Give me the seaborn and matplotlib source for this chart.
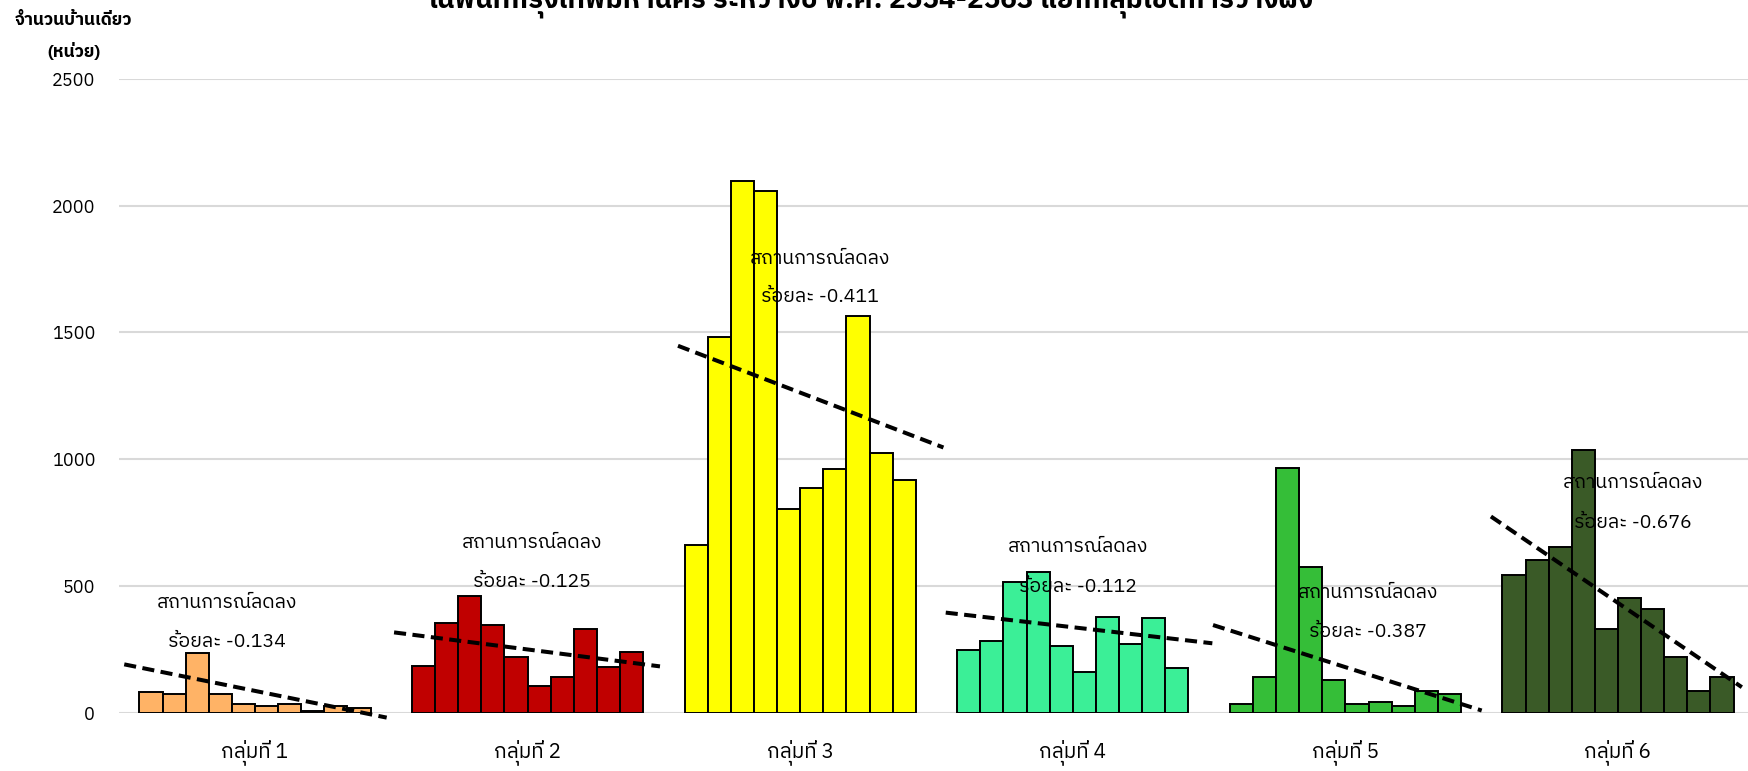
import numpy as np
import pandas as pd
import matplotlib
matplotlib.use("Agg")
import matplotlib.pyplot as plt
from matplotlib import font_manager as fm
import seaborn as sns

# ---- data ----
groups = ["กลุ่มที่ 1", "กลุ่มที่ 2", "กลุ่มที่ 3", "กลุ่มที่ 4", "กลุ่มที่ 5", "กลุ่มที่ 6"]
years = ["2554", "2555", "2556", "2557", "2558", "2559", "2560", "2561", "2562", "2563"]
g1 = [83, 75, 237, 74, 33, 26, 36, 6, 26, 19]
g2 = [186, 355, 460, 345, 220, 106, 142, 332, 182, 241]
g3 = [662, 1480, 2097, 2056, 805, 887, 961, 1563, 1023, 918]
g4 = [247, 284, 517, 554, 262, 161, 376, 272, 374, 176]
g5 = [33, 141, 964, 574, 129, 34, 42, 26, 84, 75]
g6 = [543, 604, 655, 1036, 330, 454, 409, 221, 86, 141]
pct = ["-0.134", "-0.125", "-0.411", "-0.112", "-0.387", "-0.676"]
trend_start = [191, 317, 1447, 395, 346, 774]
trend_end = [-19, 183, 1046, 274, 9, 101]

title = "ในพื้นที่กรุงเทพมหานคร ระหว่างปี พ.ศ. 2554-2563 แยกกลุ่มเขตการวางผัง"
ylab1 = "จำนวนบ้านเดี่ยว"
ylab2 = "(หน่วย)"
note = "สถานการณ์ลดลง"

# ---- styling / layout ----
colors = ["#FFB366", "#C00000", "#FFFF00", "#3BEF97", "#35BE38", "#3A5A27"]
GROUP_W = 0.8475
BAR_W = GROUP_W / len(years)
# trend line extent in bar-index units (1..10 are the bars)
trend_span = [(-0.16, 11.2), (-0.28, 11.23), (0.21, 11.7), (0.0, 11.54), (-0.23, 11.4), (0.0, 10.86)]
# annotation: x offset from group centre, y of first line, y of second line
note_pos = [(-0.104, 433, 280), (0.015, 668, 517), (0.072, 1791, 1640),
            (0.018, 655, 497), (0.084, 471, 320), (0.055, 905, 747)]


def find_thai_font():
    try:
        from fontTools.ttLib import TTFont
    except Exception:
        return None
    found = []
    for f in fm.fontManager.ttflist:
        try:
            tt = TTFont(f.fname, fontNumber=0, lazy=True)
            cmap = tt.getBestCmap()
            if cmap and 0x0E2A in cmap and 0x0E13 in cmap:
                found.append(f)
        except Exception:
            continue
    if not found:
        return None
    found.sort(key=lambda f: (("Sans" not in f.name), ("Mono" in f.name), f.weight != 400))
    return found[0].name


sns.set_theme(style="white")
thai = find_thai_font()
fams = [thai, "DejaVu Sans"] if thai else ["DejaVu Sans"]
plt.rcParams["font.family"] = fams
plt.rcParams["text.color"] = "black"
plt.rcParams["xtick.color"] = "black"
plt.rcParams["ytick.color"] = "black"

W, H = 1749, 771
fig = plt.figure(figsize=(W / 100, H / 100), dpi=100)
ax = fig.add_axes([118.7 / W, 58.2 / H, 1635.6 / W, 634.1 / H])

values = [g1, g2, g3, g4, g5, g6]
rows = []
for gname, vals in zip(groups, values):
    for yr, v in zip(years, vals):
        rows.append({"group": gname, "year": yr, "value": v})
df = pd.DataFrame(rows)

sns.barplot(data=df, x="group", y="value", hue="year", order=groups, hue_order=years,
            width=GROUP_W, gap=0, dodge=True, errorbar=None, legend=False,
            edgecolor="black", linewidth=1.4, ax=ax, zorder=2)

for p in ax.patches:
    cx = p.get_x() + p.get_width() / 2
    gi = int(round(cx))
    p.set_facecolor(colors[gi])
    p.set_edgecolor("black")

# dashed trend lines
for i in range(len(groups)):
    k0, k1 = trend_span[i]
    xs = [i + (k0 - 5.5) * BAR_W, i + (k1 - 5.5) * BAR_W]
    ax.plot(xs, [trend_start[i], trend_end[i]], color="black", lw=2.9,
            linestyle=(0, (3, 1.6)), zorder=4, clip_on=False)

# annotations
for i in range(len(groups)):
    dx, y1, y2 = note_pos[i]
    ax.text(i + dx, y1, note, ha="center", va="center", fontsize=14, color="black", zorder=5)
    ax.text(i + dx, y2, "ร้อยละ " + pct[i], ha="center", va="center", fontsize=14,
            color="black", zorder=5)

ax.set_xlim(-0.5, len(groups) - 0.5)
ax.set_ylim(0, 2500)
ax.set_yticks([0, 500, 1000, 1500, 2000, 2500])
ax.yaxis.grid(True, color="#D9D9D9", lw=1.5, zorder=0)
ax.xaxis.grid(False)
ax.set_axisbelow(True)
for s in ax.spines.values():
    s.set_visible(False)
ax.tick_params(axis="x", length=0, pad=19, labelsize=15)
ax.tick_params(axis="y", length=0, pad=17, labelsize=13)
ax.set_xlabel("")
ax.set_ylabel("")

fig.text(74 / W, 1 - 20 / H, ylab1, ha="center", va="center", fontsize=12.5, fontweight="bold")
fig.text(74 / W, 1 - 51 / H, ylab2, ha="center", va="center", fontsize=12.5, fontweight="bold")
fig.text(871 / W, 1 - 8 / H, title, ha="center", va="baseline", fontsize=20, fontweight="bold")

fig.savefig("out.png", dpi=100)
